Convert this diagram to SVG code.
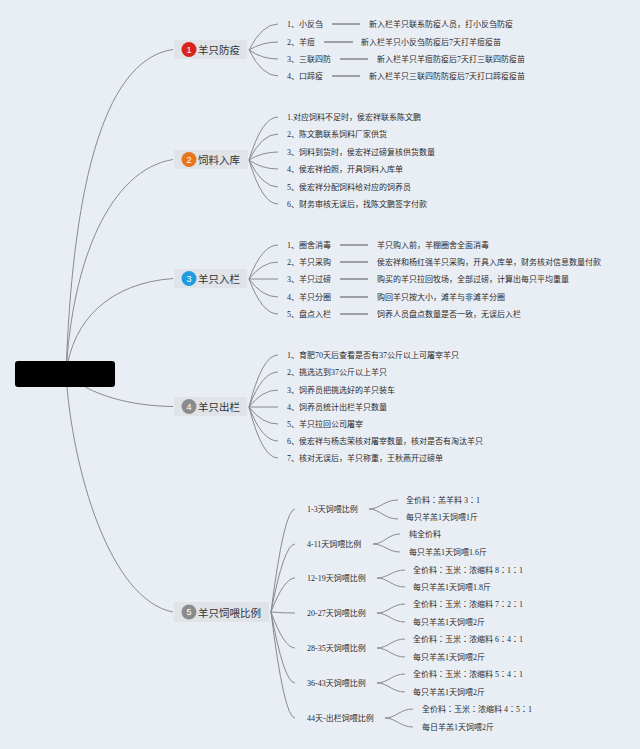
<svg xmlns="http://www.w3.org/2000/svg" width="640" height="749" viewBox="0 0 640 749">
<style>
.bg{fill:#e9eef5}
.ln{fill:none;stroke:#8a8a8a;stroke-width:1}
.dl{fill:none;stroke:#555;stroke-width:1}
.box{fill:#e0e3e7}
.t1{font-family:"Noto Sans CJK SC","Liberation Sans",sans-serif;font-size:10.5px;fill:#333;dominant-baseline:central}
.t2{font-family:"Liberation Serif","Noto Sans CJK SC",serif;font-size:8px;fill:#2a2a2a;dominant-baseline:central}
.t3{font-family:"Liberation Serif","Noto Sans CJK TC",serif;font-size:8px;fill:#2a2a2a;dominant-baseline:central}
.bn{font-family:"Liberation Sans",sans-serif;font-size:9px;fill:#fff;text-anchor:middle;dominant-baseline:central}
</style>
<rect class="bg" x="0" y="0" width="640" height="749"/>
<g id="connectors">
<path class="ln" d="M66,374 C72,200 100,60 173,49.5"/>
<path class="ln" d="M66,374 C72,260 110,170 173,159.5"/>
<path class="ln" d="M66,374 C72,320 110,283 173,278.5"/>
<path class="ln" d="M66,374 C90,395 130,406 173,406.5"/>
<path class="ln" d="M66,374 C72,470 110,600 173,612"/>
<g id="c1">
<path class="ln" d="M249,50 Q262,24 278,24"/>
<path class="ln" d="M249,50 Q262,42 278,42"/>
<path class="ln" d="M249,50 Q262,59 278,59"/>
<path class="ln" d="M249,50 Q262,76 278,76"/>
<path class="dl" d="M332,24H360M324,42H353M340,59H368M332,76H360"/>
</g>
<g id="c2">
<path class="ln" d="M249,160 Q262,117 278,117"/>
<path class="ln" d="M249,160 Q262,134 278,134"/>
<path class="ln" d="M249,160 Q262,152 278,152"/>
<path class="ln" d="M249,160 Q262,169 278,169"/>
<path class="ln" d="M249,160 Q262,187 278,187"/>
<path class="ln" d="M249,160 Q262,204 278,204"/>
</g>
<g id="c3">
<path class="ln" d="M249,279 Q262,245 278,245"/>
<path class="ln" d="M249,279 Q262,262 278,262"/>
<path class="ln" d="M249,279 Q262,279 278,279"/>
<path class="ln" d="M249,279 Q262,297 278,297"/>
<path class="ln" d="M249,279 Q262,314 278,314"/>
<path class="dl" d="M340,245H368M340,262H368M340,279H368M340,297H368M340,314H368"/>
</g>
<g id="c4">
<path class="ln" d="M249,407 Q262,355 278,355"/>
<path class="ln" d="M249,407 Q262,372 278,372"/>
<path class="ln" d="M249,407 Q262,390 278,390"/>
<path class="ln" d="M249,407 Q262,407 278,407"/>
<path class="ln" d="M249,407 Q262,424 278,424"/>
<path class="ln" d="M249,407 Q262,441 278,441"/>
<path class="ln" d="M249,407 Q262,458 278,458"/>
</g>
<g id="c5">
<path class="ln" d="M271,612 Q284,509 295,509"/>
<path class="ln" d="M271,612 Q284,544 295,544"/>
<path class="ln" d="M271,612 Q284,578 295,578"/>
<path class="ln" d="M271,612 Q284,613 295,613"/>
<path class="ln" d="M271,612 Q284,648 295,648"/>
<path class="ln" d="M271,612 Q284,683 295,683"/>
<path class="ln" d="M271,612 Q284,718 295,718"/>
<path class="ln" d="M369,509 C380,509 384,500 398,500M369,509 C380,509 384,519 398,519"/>
<path class="ln" d="M373,544 C384,544 388,534 400,534M373,544 C384,544 388,552 400,552"/>
<path class="ln" d="M377,578 C388,578 392,570 405,570M377,578 C388,578 392,587 405,587"/>
<path class="ln" d="M377,613 C388,613 392,604 405,604M377,613 C388,613 392,622 405,622"/>
<path class="ln" d="M377,648 C388,648 392,639 405,639M377,648 C388,648 392,657 405,657"/>
<path class="ln" d="M377,683 C388,683 392,674 405,674M377,683 C388,683 392,692 405,692"/>
<path class="ln" d="M385,718 C396,718 400,709 413,709M385,718 C396,718 400,727 413,727"/>
</g>
</g>
<g id="root">
<rect x="15" y="361" width="100" height="26" rx="3" fill="#000"/>
</g>
<g id="n1">
<rect class="box" x="174" y="40" width="73" height="19"/>
<circle cx="189" cy="49.5" r="7.5" fill="#d8231b"/>
<text class="bn" x="189" y="49.5">1</text>
<text class="t1" x="198" y="49.5">羊只防疫</text>
<text class="t2" x="287" y="24">1、小反刍</text>
<text class="t2" x="369" y="24">新入栏羊只联系防疫人员，打小反刍防疫</text>
<text class="t2" x="287" y="42">2、羊痘</text>
<text class="t2" x="361" y="42">新入栏羊只小反刍防疫后7天打羊痘疫苗</text>
<text class="t2" x="287" y="59">3、三联四防</text>
<text class="t2" x="377" y="59">新入栏羊只羊痘防疫后7天打三联四防疫苗</text>
<text class="t2" x="287" y="76">4、口蹄疫</text>
<text class="t2" x="369" y="76">新入栏羊只三联四防防疫后7天打口蹄疫疫苗</text>
</g>
<g id="n2">
<rect class="box" x="174" y="150" width="74" height="19"/>
<circle cx="189" cy="159.5" r="7.5" fill="#e8741d"/>
<text class="bn" x="189" y="159.5">2</text>
<text class="t1" x="198" y="159.5">饲料入库</text>
<text class="t2" x="287" y="117">1.对应饲料不足时，侯宏祥联系陈文鹏</text>
<text class="t2" x="287" y="134">2、陈文鹏联系饲料厂家供货</text>
<text class="t2" x="287" y="152">3、饲料到货时，侯宏祥过磅复核供货数量</text>
<text class="t2" x="287" y="169">4、侯宏祥拍照，开具饲料入库单</text>
<text class="t2" x="287" y="187">5、侯宏祥分配饲料给对应的饲养员</text>
<text class="t2" x="287" y="204">6、财务审核无误后，找陈文鹏签字付款</text>
</g>
<g id="n3">
<rect class="box" x="174" y="269" width="73" height="19"/>
<circle cx="189" cy="278.5" r="7.5" fill="#1f9ce0"/>
<text class="bn" x="189" y="278.5">3</text>
<text class="t1" x="198" y="278.5">羊只入栏</text>
<text class="t2" x="287" y="245">1、圈舍消毒</text>
<text class="t2" x="377" y="245">羊只购入前，羊棚圈舍全面消毒</text>
<text class="t2" x="287" y="262">2、羊只采购</text>
<text class="t2" x="377" y="262">侯宏祥和杨红强羊只采购，开具入库单，财务核对信息数量付款</text>
<text class="t2" x="287" y="279">3、羊只过磅</text>
<text class="t2" x="377" y="279">购买的羊只拉回牧场，全部过磅，计算出每只平均重量</text>
<text class="t2" x="287" y="297">4、羊只分圈</text>
<text class="t2" x="377" y="297">购回羊只按大小，滩羊与非滩羊分圈</text>
<text class="t2" x="287" y="314">5、盘点入栏</text>
<text class="t2" x="377" y="314">饲养人员盘点数量是否一致，无误后入栏</text>
</g>
<g id="n4">
<rect class="box" x="174" y="397" width="73" height="19"/>
<circle cx="189" cy="406.5" r="7.5" fill="#8c8c8c"/>
<text class="bn" x="189" y="406.5">4</text>
<text class="t1" x="198" y="406.5">羊只出栏</text>
<text class="t2" x="287" y="355">1、育肥70天后查看是否有37公斤以上可屠宰羊只</text>
<text class="t2" x="287" y="372">2、挑选达到37公斤以上羊只</text>
<text class="t2" x="287" y="390">3、饲养员把挑选好的羊只装车</text>
<text class="t2" x="287" y="407">4、饲养员统计出栏羊只数量</text>
<text class="t2" x="287" y="424">5、羊只拉回公司屠宰</text>
<text class="t2" x="287" y="441">6、侯宏祥与杨志荣核对屠宰数量，核对是否有淘汰羊只</text>
<text class="t2" x="287" y="458">7、核对无误后，羊只称重，王秋燕开过磅单</text>
</g>
<g id="n5">
<rect class="box" x="174" y="602" width="95" height="20"/>
<circle cx="189" cy="612" r="7.5" fill="#8c8c8c"/>
<text class="bn" x="189" y="612">5</text>
<text class="t1" x="198" y="612">羊只饲喂比例</text>
<text class="t2" x="307" y="509">1-3天饲喂比例</text>
<text class="t3" x="406" y="500">全价料：羔羊料 3：1</text>
<text class="t2" x="406" y="517">每只羊羔1天饲喂1斤</text>
<text class="t2" x="307" y="544">4-11天饲喂比例</text>
<text class="t2" x="409" y="534">纯全价料</text>
<text class="t2" x="409" y="552">每只羊羔1天饲喂1.6斤</text>
<text class="t2" x="307" y="578">12-19天饲喂比例</text>
<text class="t3" x="413" y="570">全价料：玉米：浓缩料 8：1：1</text>
<text class="t2" x="413" y="587">每只羊羔1天饲喂1.8斤</text>
<text class="t2" x="307" y="613">20-27天饲喂比例</text>
<text class="t3" x="413" y="604">全价料：玉米：浓缩料 7：2：1</text>
<text class="t2" x="413" y="622">每只羊羔1天饲喂2斤</text>
<text class="t2" x="307" y="648">28-35天饲喂比例</text>
<text class="t3" x="413" y="639">全价料：玉米：浓缩料 6：4：1</text>
<text class="t2" x="413" y="657">每只羊羔1天饲喂2斤</text>
<text class="t2" x="307" y="683">36-43天饲喂比例</text>
<text class="t3" x="413" y="674">全价料：玉米：浓缩料 5：4：1</text>
<text class="t2" x="413" y="692">每只羊羔1天饲喂2斤</text>
<text class="t2" x="307" y="718">44天-出栏饲喂比例</text>
<text class="t3" x="422" y="709">全价料：玉米：浓缩料 4：5：1</text>
<text class="t2" x="422" y="727">每日羊羔1天饲喂2斤</text>
</g>
</svg>
